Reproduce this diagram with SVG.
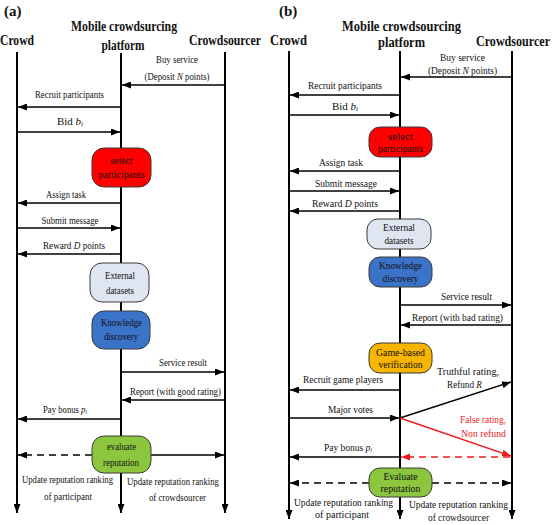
<svg xmlns="http://www.w3.org/2000/svg" width="553" height="525" viewBox="0 0 553 525" font-family="'Liberation Serif', 'Times New Roman', serif">
<style>
text{font-family:'Liberation Serif','Times New Roman',serif;fill:#111;}
.t{font-size:15px;font-weight:bold;text-anchor:middle;}
.p{font-size:15px;font-weight:bold;}
.l{font-size:11px;text-anchor:middle;}
.b{font-size:11px;text-anchor:middle;}
.r{fill:#ee1c1c;}
.life{stroke:#000;stroke-width:2;fill:none;marker-end:url(#ah);}
.msg{stroke:#000;stroke-width:1.4;fill:none;marker-end:url(#ah);}
.dash{stroke-dasharray:7,5;}
.red{stroke:#ee1c1c;marker-end:url(#ahr);}
.box{stroke:#3a3a3a;stroke-width:1;}
</style>
<defs>
<marker id="ah" markerUnits="userSpaceOnUse" markerWidth="9" markerHeight="7" refX="9" refY="3.5" orient="auto"><path d="M0,0 L9,3.5 L0,7 z" fill="#000"/></marker>
<marker id="ahr" markerUnits="userSpaceOnUse" markerWidth="9" markerHeight="7" refX="9" refY="3.5" orient="auto"><path d="M0,0 L9,3.5 L0,7 z" fill="#ee1c1c"/></marker>
</defs>
<rect width="553" height="525" fill="#fff"/>

<text class="p" x="4" y="16">(a)</text>
<text class="p" x="279" y="16">(b)</text>

<g id="a-crowd"><text class="t" x="17" y="45" textLength="34" lengthAdjust="spacingAndGlyphs">Crowd</text></g>
<g id="a-platform"><text class="t" x="124" y="31" textLength="106" lengthAdjust="spacingAndGlyphs">Mobile crowdsurcing</text><text class="t" x="123" y="50" textLength="43" lengthAdjust="spacingAndGlyphs">platform</text></g>
<g id="a-crowdsourcer"><text class="t" x="225" y="45" textLength="72" lengthAdjust="spacingAndGlyphs">Crowdsourcer</text></g>
<g id="b-crowd"><text class="t" x="288.5" y="45" textLength="37" lengthAdjust="spacingAndGlyphs">Crowd</text></g>
<g id="b-platform"><text class="t" x="401.5" y="31" textLength="119" lengthAdjust="spacingAndGlyphs">Mobile crowdsourcing</text><text class="t" x="401.5" y="47" textLength="47" lengthAdjust="spacingAndGlyphs">platform</text></g>
<g id="b-crowdsourcer"><text class="t" x="513" y="46" textLength="74" lengthAdjust="spacingAndGlyphs">Crowdsourcer</text></g>

<g id="connectors">
<line class="life" x1="17" y1="52" x2="17" y2="513"/>
<line class="life" x1="121" y1="53" x2="121" y2="513"/>
<line class="life" x1="225" y1="52" x2="225" y2="513"/>
<line class="life" x1="289" y1="51" x2="289" y2="519"/>
<line class="life" x1="400" y1="51" x2="400" y2="519"/>
<line class="life" x1="512" y1="51" x2="512" y2="519"/>

<line class="msg" x1="225" y1="85" x2="122" y2="85"/>
<line class="msg" x1="121" y1="107" x2="18" y2="107"/>
<line class="msg" x1="17" y1="132" x2="120" y2="132"/>
<line class="msg" x1="121" y1="203" x2="18" y2="203"/>
<line class="msg" x1="17" y1="228" x2="120" y2="228"/>
<line class="msg" x1="121" y1="254" x2="18" y2="254"/>
<line class="msg" x1="121" y1="372" x2="224" y2="372"/>
<line class="msg" x1="225" y1="400" x2="122" y2="400"/>
<line class="msg" x1="121" y1="419" x2="18" y2="419"/>
<line class="msg dash" x1="92" y1="455" x2="18" y2="455"/>
<line class="msg" x1="151" y1="455" x2="224" y2="455"/>

<line class="msg" x1="512" y1="77" x2="401" y2="77"/>
<line class="msg" x1="400" y1="95" x2="290" y2="95"/>
<line class="msg" x1="289" y1="115" x2="399" y2="115"/>
<line class="msg" x1="400" y1="171" x2="290" y2="171"/>
<line class="msg" x1="289" y1="191" x2="399" y2="191"/>
<line class="msg" x1="400" y1="211" x2="290" y2="211"/>
<line class="msg" x1="400" y1="305" x2="511" y2="305"/>
<line class="msg" x1="512" y1="325" x2="401" y2="325"/>
<line class="msg" x1="400" y1="390" x2="290" y2="390"/>
<line class="msg" x1="289" y1="418" x2="399" y2="418"/>
<line class="msg" x1="400" y1="418" x2="511" y2="382"/>
<line class="msg red" x1="400" y1="418" x2="511" y2="456"/>
<line class="msg" x1="400" y1="457" x2="290" y2="457"/>
<line class="msg red dash" x1="510" y1="457" x2="401" y2="457"/>
<line class="msg dash" x1="369" y1="483" x2="290" y2="483"/>
<line class="msg dash" x1="432" y1="483" x2="511" y2="483"/>
</g>

<text class="l" x="177" y="63" textLength="42" lengthAdjust="spacingAndGlyphs">Buy service</text>
<text class="l" x="177" y="80" textLength="65" lengthAdjust="spacingAndGlyphs">(Deposit <tspan font-style="italic">N</tspan> points)</text>
<text class="l" x="69.5" y="98" textLength="69" lengthAdjust="spacingAndGlyphs">Recruit participants</text>
<text class="l" x="70" y="125">Bid  <tspan font-style="italic">b</tspan><tspan font-style="italic" font-size="7" dy="1">i</tspan></text>
<text class="l" x="66" y="198" textLength="40" lengthAdjust="spacingAndGlyphs">Assign task</text>
<text class="l" x="70" y="224" textLength="57" lengthAdjust="spacingAndGlyphs">Submit message</text>
<text class="l" x="74" y="249" textLength="62" lengthAdjust="spacingAndGlyphs">Reward  <tspan font-style="italic">D</tspan> points</text>
<text class="l" x="183" y="366" textLength="48" lengthAdjust="spacingAndGlyphs">Service result</text>
<text class="l" x="175.5" y="395" textLength="91" lengthAdjust="spacingAndGlyphs">Report (with good rating)</text>
<text class="l" x="65" y="413" textLength="44" lengthAdjust="spacingAndGlyphs">Pay bonus <tspan font-style="italic">p</tspan><tspan font-style="italic" font-size="7" dy="1">i</tspan></text>
<text class="l" x="67.5" y="483" textLength="91" lengthAdjust="spacingAndGlyphs">Update reputation ranking</text>
<text class="l" x="68" y="500" textLength="48" lengthAdjust="spacingAndGlyphs">of participant</text>
<text class="l" x="173" y="485" textLength="92" lengthAdjust="spacingAndGlyphs">Update reputation ranking</text>
<text class="l" x="177.5" y="501" textLength="57" lengthAdjust="spacingAndGlyphs">of crowdsourcer</text>

<g id="a-select"><rect class="box" x="92" y="148" width="59" height="39" rx="12" fill="#ff0000"/><text class="b" x="121.5" y="164" textLength="22" lengthAdjust="spacingAndGlyphs">select</text><text class="b" x="121.5" y="178" textLength="46" lengthAdjust="spacingAndGlyphs">participants</text></g>
<g id="a-external"><rect class="box" x="90" y="263" width="59" height="39" rx="12" fill="#dfe6f1"/><text class="b" x="120" y="279" textLength="30" lengthAdjust="spacingAndGlyphs">External</text><text class="b" x="120" y="294" textLength="28" lengthAdjust="spacingAndGlyphs">datasets</text></g>
<g id="a-knowledge"><rect class="box" x="92" y="311" width="58" height="38" rx="12" fill="#3b73c9"/><text class="b" x="121.5" y="326" textLength="41" lengthAdjust="spacingAndGlyphs">Knowledge</text><text class="b" x="121" y="340" textLength="34" lengthAdjust="spacingAndGlyphs">discovery</text></g>
<g id="a-evaluate"><rect class="box" x="92" y="436" width="59" height="37" rx="12" fill="#8cc63f"/><text class="b" x="121.5" y="450" textLength="29" lengthAdjust="spacingAndGlyphs">evaluate</text><text class="b" x="121" y="466" textLength="36" lengthAdjust="spacingAndGlyphs">reputation</text></g>

<text class="l" x="462.5" y="61" textLength="45" lengthAdjust="spacingAndGlyphs">Buy service</text>
<text class="l" x="462.5" y="74" textLength="69" lengthAdjust="spacingAndGlyphs">(Deposit <tspan font-style="italic">N</tspan> points)</text>
<text class="l" x="345" y="89" textLength="74" lengthAdjust="spacingAndGlyphs">Recruit participants</text>
<text class="l" x="345" y="110">Bid  <tspan font-style="italic">b</tspan><tspan font-style="italic" font-size="7" dy="1">i</tspan></text>
<text class="l" x="341" y="166" textLength="44" lengthAdjust="spacingAndGlyphs">Assign task</text>
<text class="l" x="346" y="187" textLength="62" lengthAdjust="spacingAndGlyphs">Submit message</text>
<text class="l" x="345" y="207" textLength="66" lengthAdjust="spacingAndGlyphs">Reward  <tspan font-style="italic">D</tspan> points</text>
<text class="l" x="466.5" y="300" textLength="51" lengthAdjust="spacingAndGlyphs">Service result</text>
<text class="l" x="457.5" y="321" textLength="91" lengthAdjust="spacingAndGlyphs">Report (with bad rating)</text>
<text class="l" x="468" y="375" textLength="62" lengthAdjust="spacingAndGlyphs">Truthful rating,</text>
<text class="l" x="464.5" y="388" textLength="35" lengthAdjust="spacingAndGlyphs">Refund <tspan font-style="italic">R</tspan></text>
<text class="l" x="343" y="383" textLength="80" lengthAdjust="spacingAndGlyphs">Recruit game players</text>
<text class="l" x="350.5" y="413" textLength="45" lengthAdjust="spacingAndGlyphs">Major votes</text>
<text class="l r" x="483" y="423" textLength="46" lengthAdjust="spacingAndGlyphs">False rating,</text>
<text class="l r" x="483.5" y="437" textLength="45" lengthAdjust="spacingAndGlyphs">Non  refund</text>
<text class="l" x="348" y="451" textLength="48" lengthAdjust="spacingAndGlyphs">Pay bonus <tspan font-style="italic">p</tspan><tspan font-style="italic" font-size="7" dy="1">i</tspan></text>
<text class="l" x="343.5" y="506" textLength="99" lengthAdjust="spacingAndGlyphs">Update reputation ranking</text>
<text class="l" x="342" y="518" textLength="54" lengthAdjust="spacingAndGlyphs">of participant</text>
<text class="l" x="458.5" y="508" textLength="99" lengthAdjust="spacingAndGlyphs">Update reputation ranking</text>
<text class="l" x="458.5" y="521" textLength="61" lengthAdjust="spacingAndGlyphs">of crowdsourcer</text>

<g id="b-select"><rect class="box" x="369" y="127" width="63" height="30" rx="11" fill="#ff0000"/><text class="b" x="400.5" y="140" textLength="25" lengthAdjust="spacingAndGlyphs">select</text><text class="b" x="400.5" y="152" textLength="45" lengthAdjust="spacingAndGlyphs">participants</text></g>
<g id="b-external"><rect class="box" x="367" y="219" width="64" height="30" rx="11" fill="#dfe6f1"/><text class="b" x="399" y="231" textLength="32" lengthAdjust="spacingAndGlyphs">External</text><text class="b" x="399" y="244" textLength="29" lengthAdjust="spacingAndGlyphs">datasets</text></g>
<g id="b-knowledge"><rect class="box" x="369" y="257" width="63" height="30" rx="11" fill="#3b73c9"/><text class="b" x="400.5" y="269" textLength="43" lengthAdjust="spacingAndGlyphs">Knowledge</text><text class="b" x="400.5" y="282" textLength="36" lengthAdjust="spacingAndGlyphs">discovery</text></g>
<g id="b-game"><rect class="box" x="369" y="343" width="63" height="30" rx="11" fill="#f8b500"/><text class="b" x="400.5" y="356" textLength="49" lengthAdjust="spacingAndGlyphs">Game-based</text><text class="b" x="400.5" y="368" textLength="44" lengthAdjust="spacingAndGlyphs">verification</text></g>
<g id="b-evaluate"><rect class="box" x="369" y="468" width="63" height="29" rx="11" fill="#8cc63f"/><text class="b" x="400.5" y="480" textLength="34" lengthAdjust="spacingAndGlyphs">Evaluate</text><text class="b" x="400.5" y="492" textLength="40" lengthAdjust="spacingAndGlyphs">reputation</text></g>
</svg>
